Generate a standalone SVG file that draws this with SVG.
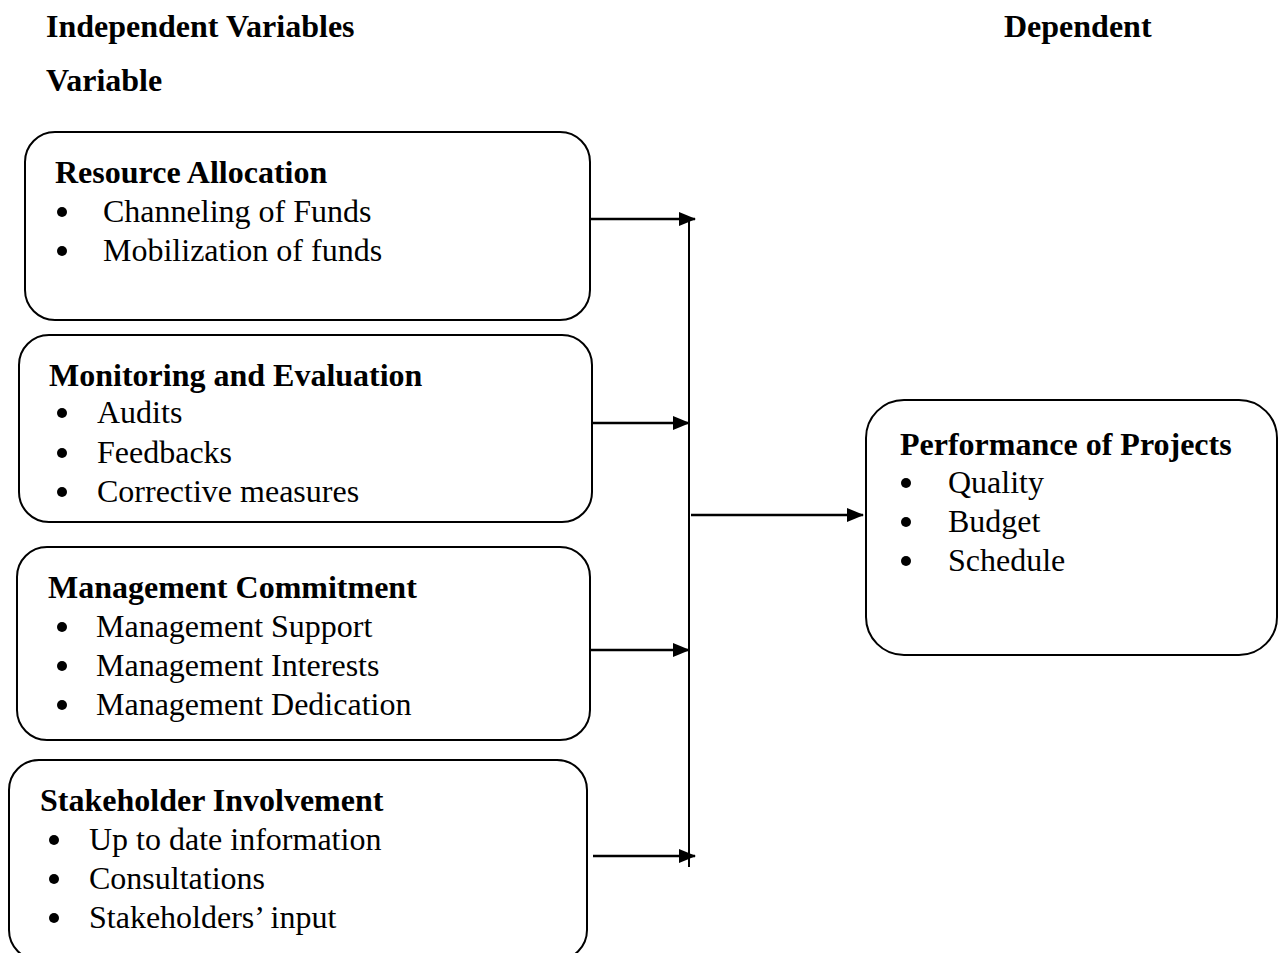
<svg xmlns="http://www.w3.org/2000/svg" width="1283" height="953" viewBox="0 0 1283 953">
<style>
text{font-family:"Liberation Serif","Times New Roman",serif;font-size:32px;fill:#000}
.b{font-weight:bold}
.box{fill:#fff;stroke:#000;stroke-width:2}
.ln{stroke:#000;stroke-width:2.5;fill:none}
.vl{stroke:#000;stroke-width:2;fill:none}
circle{fill:#000}
</style>
<defs>
<marker id="ah" viewBox="0 0 17 14" refX="16" refY="7" markerWidth="17" markerHeight="14" markerUnits="userSpaceOnUse" orient="auto">
<path d="M0,0 L17,7 L0,14 Z" fill="#000"/>
</marker>
</defs>
<g id="headers">
<text class="b" x="46" y="37">Independent Variables</text>
<text class="b" x="1004" y="37">Dependent</text>
<text class="b" x="46" y="91">Variable</text>
</g>
<g id="connectors">
<line class="vl" x1="689" y1="219" x2="689" y2="867"/>
<line class="ln" x1="590" y1="219" x2="695" y2="219" marker-end="url(#ah)"/>
<line class="ln" x1="587" y1="423" x2="689" y2="423" marker-end="url(#ah)"/>
<line class="ln" x1="587" y1="650" x2="689" y2="650" marker-end="url(#ah)"/>
<line class="ln" x1="593" y1="856" x2="695" y2="856" marker-end="url(#ah)"/>
<line class="ln" x1="691" y1="515" x2="863" y2="515" marker-end="url(#ah)"/>
</g>
<g id="resource-allocation">
<rect class="box" x="25" y="132" width="565" height="188" rx="30"/>
<text class="b" x="55" y="183">Resource Allocation</text>
<circle cx="62" cy="212" r="5"/><text x="103" y="222">Channeling of Funds</text>
<circle cx="62" cy="251" r="5"/><text x="103" y="261">Mobilization of funds</text>
</g>
<g id="monitoring-evaluation">
<rect class="box" x="19" y="335" width="573" height="187" rx="30"/>
<text class="b" x="49" y="386">Monitoring and Evaluation</text>
<circle cx="62" cy="413" r="5"/><text x="97" y="423">Audits</text>
<circle cx="62" cy="453" r="5"/><text x="97" y="463">Feedbacks</text>
<circle cx="62" cy="492" r="5"/><text x="97" y="502">Corrective measures</text>
</g>
<g id="management-commitment">
<rect class="box" x="17" y="547" width="573" height="193" rx="30"/>
<text class="b" x="48" y="598">Management Commitment</text>
<circle cx="62" cy="627" r="5"/><text x="96" y="637">Management Support</text>
<circle cx="62" cy="666" r="5"/><text x="96" y="676">Management Interests</text>
<circle cx="62" cy="705" r="5"/><text x="96" y="715">Management Dedication</text>
</g>
<g id="stakeholder-involvement">
<rect class="box" x="9" y="760" width="578" height="200" rx="30"/>
<text class="b" x="40" y="811">Stakeholder Involvement</text>
<circle cx="54" cy="840" r="5"/><text x="89" y="850">Up to date information</text>
<circle cx="54" cy="879" r="5"/><text x="89" y="889">Consultations</text>
<circle cx="54" cy="918" r="5"/><text x="89" y="928">Stakeholders’ input</text>
</g>
<g id="performance-of-projects">
<rect class="box" x="866" y="400" width="411" height="255" rx="38"/>
<text class="b" x="900" y="455">Performance of Projects</text>
<circle cx="906" cy="483" r="5"/><text x="948" y="493">Quality</text>
<circle cx="906" cy="522" r="5"/><text x="948" y="532">Budget</text>
<circle cx="906" cy="561" r="5"/><text x="948" y="571">Schedule</text>
</g>
</svg>
